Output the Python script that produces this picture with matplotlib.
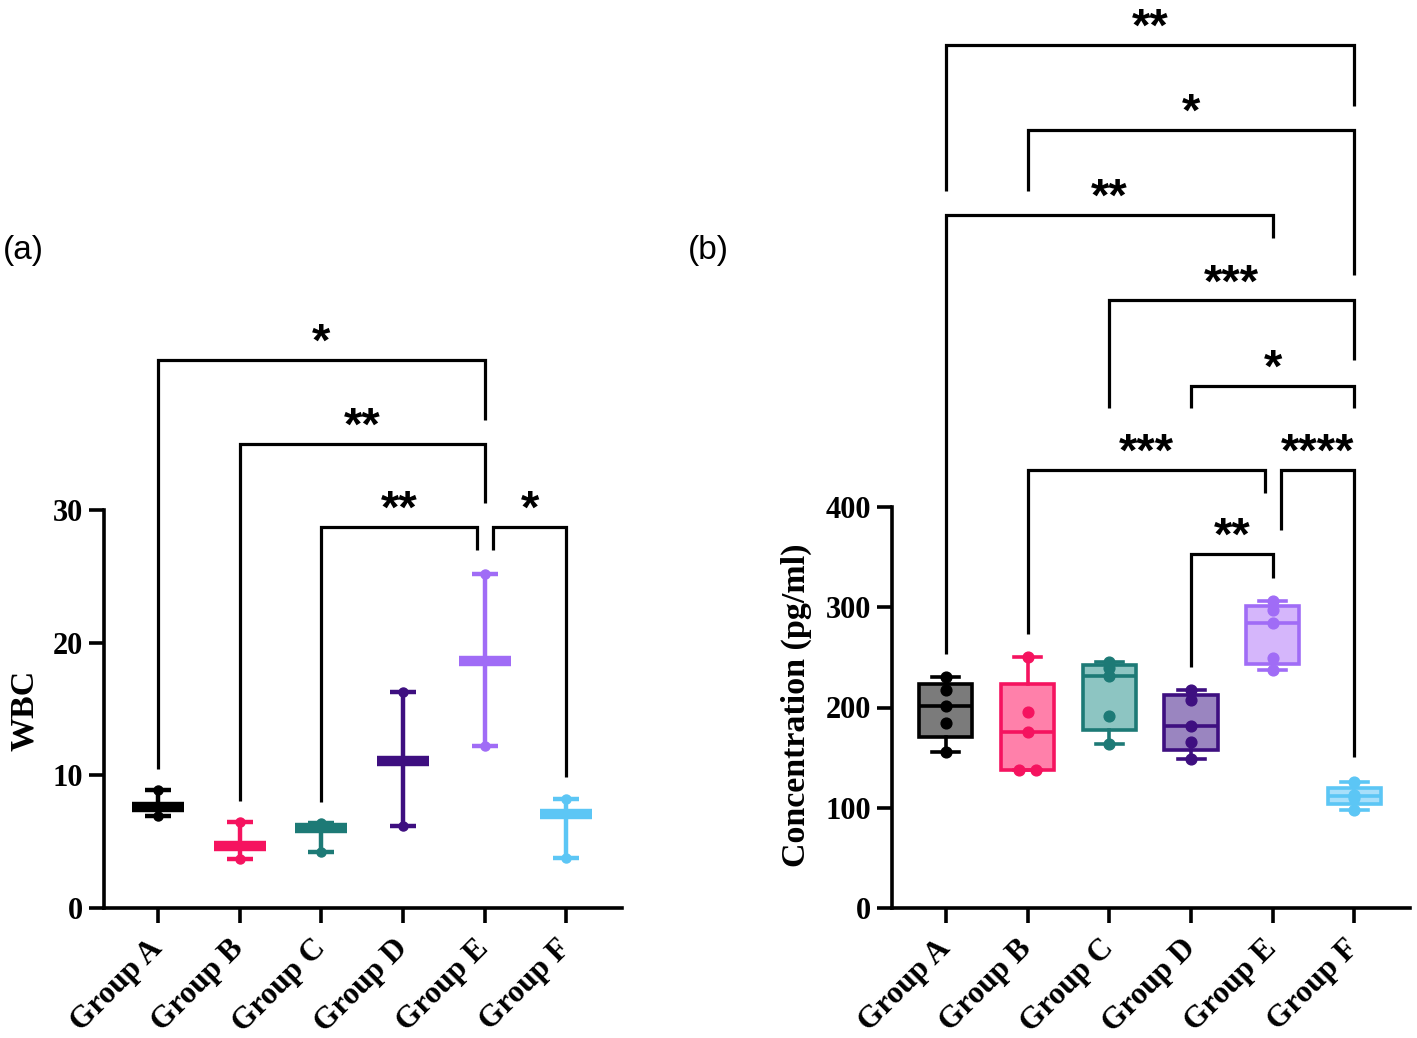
import numpy as np
import matplotlib
matplotlib.use("Agg")
import matplotlib.pyplot as plt
import matplotlib.transforms as mtransforms

# groups
groups = ["Group A", "Group B", "Group C", "Group D", "Group E", "Group F"]
edge_cols = ["#000000", "#F5135F", "#1D7A76", "#3E0F80", "#A06CF6", "#5CC6F5"]
fill_cols = ["#7B7B7B", "#FF80AA", "#8DC5C2", "#9A85C0", "#D5B6FB", "#A8DFFA"]

# (a) WBC: min, max, mean
wbc_min = [6.9, 3.7, 4.2, 6.2, 12.2, 3.8]
wbc_max = [8.9, 6.5, 6.4, 16.3, 25.2, 8.2]
wbc_mean = [7.6, 4.7, 6.0, 11.1, 18.6, 7.1]

# (b) concentration, five animals per group
conc = [
    [156, 185, 201, 217, 230],
    [138, 138, 176, 196, 250],
    [164, 192, 231, 239, 245],
    [149, 166, 182, 207, 217],
    [237, 249, 284, 297, 306],
    [98, 110, 112, 113, 126],
]

# significance brackets: (left x, right x, bar y, left leg end, right leg end, label)
sig_a = [
    (0, 4, 41.3, 10.5, 36.8, "*"),
    (1, 4, 35.0, 8.1, 30.5, "**"),
    (2, 3.9, 28.7, 8.0, 27.0, "**"),
    (4.1, 5, 28.7, 27.0, 9.9, "*"),
]
sig_b = [
    (0, 5, 861, 715, 800, "**"),
    (1, 5, 776, 715, 631, "*"),
    (0, 4, 691, 253, 668, "**"),
    (2, 5, 606, 499, 547, "***"),
    (3, 5, 521, 499, 499, "*"),
    (1, 3.9, 437, 273, 414, "***"),
    (4.1, 5, 437, 377, 151, "****"),
    (3, 4, 353, 240, 329, "**"),
]

W, H = 1417, 1038
serif = ["Liberation Serif", "DejaVu Serif"]
sans = ["Liberation Sans", "DejaVu Sans"]
plt.rcParams["font.family"] = serif

fig = plt.figure(figsize=(W / 100, H / 100), dpi=100)
axL = fig.add_axes([104 / W, (H - 908) / H, 518 / W, 398 / H])
axR = fig.add_axes([892 / W, (H - 908) / H, 518 / W, 401 / H])

x = np.arange(len(groups))
shift = mtransforms.ScaledTranslation(6 / 100, 0, fig.dpi_scale_trans)


def style_axis(ax, yticks):
    ax.set_xlim(-0.66, 5.68)
    ax.set_ylim(yticks[0], yticks[-1])
    ax.set_yticks(yticks)
    ax.set_xticks(x)
    ax.set_xticklabels(groups, rotation=45, ha="right", va="center",
                       rotation_mode="anchor", fontsize=22.5, fontweight="bold")
    for lab in ax.get_xticklabels():
        lab.set_transform(lab.get_transform() + shift)
    for lab in ax.get_yticklabels():
        lab.set_fontsize(22)
        lab.set_fontweight("bold")
    for s in ["top", "right"]:
        ax.spines[s].set_visible(False)
    for s in ["left", "bottom"]:
        ax.spines[s].set_linewidth(2.6)
    ax.tick_params(axis="both", direction="out", length=11, width=2.6, pad=4)
    ax.tick_params(axis="x", pad=15)


def brackets(ax, items, off):
    for x1, x2, y, e1, e2, txt in items:
        ax.plot([x1, x1, x2, x2], [e1, y, y, e2], color="black", lw=2.3,
                clip_on=False, solid_joinstyle="miter", solid_capstyle="butt")
        ax.annotate(txt, xy=((x1 + x2) / 2, y), xytext=(0, off),
                    textcoords="offset points", ha="center", va="baseline",
                    fontsize=34, fontweight="bold", family=sans,
                    annotation_clip=False)


# ---- panel (a)
for i in x:
    c = edge_cols[i]
    lo = wbc_mean[i] - wbc_min[i]
    hi = wbc_max[i] - wbc_mean[i]
    axL.errorbar(i, wbc_mean[i], yerr=[[lo], [hi]], fmt="none", ecolor=c,
                 elinewidth=3.2, capsize=9.5, capthick=3.2, clip_on=False)
    axL.plot([i, i], [wbc_min[i], wbc_max[i]], "o", color=c, ms=6.5)
    axL.plot(i, wbc_mean[i], marker="_", ms=38, mew=7.5, color=c)
style_axis(axL, [0, 10, 20, 30])
brackets(axL, sig_a, 3)

# ---- panel (b)
stats = []
for i, vals in enumerate(conc):
    v = np.array(vals, dtype=float)
    q1, med, q3 = np.percentile(v, [25, 50, 75], method="weibull")
    stats.append(dict(med=med, q1=q1, q3=q3, whislo=v.min(), whishi=v.max(),
                      fliers=[]))
bp = axR.bxp(stats, positions=x, widths=0.65, capwidths=0.33,
             patch_artist=True, showfliers=False)
for i in x:
    c = edge_cols[i]
    bp["boxes"][i].set(facecolor=fill_cols[i], edgecolor=c, linewidth=2.6)
    bp["medians"][i].set(color=c, linewidth=2.6)
    for w in bp["whiskers"][2 * i:2 * i + 2]:
        w.set(color=c, linewidth=2.6)
    for cp in bp["caps"][2 * i:2 * i + 2]:
        cp.set(color=c, linewidth=2.6)
    vals = np.array(conc[i], dtype=float)
    xs = np.full(len(vals), float(i))
    for j in range(1, len(vals)):
        if abs(vals[j] - vals[j - 1]) < 1.0:
            xs[j - 1] -= 0.1
            xs[j] += 0.1
    axR.scatter(xs, vals, s=60, color=c, zorder=4, clip_on=False)
style_axis(axR, [0, 100, 200, 300, 400])
brackets(axR, sig_b, 3)

# labels
fig.text(24 / W, 1 - 710 / H, "WBC", rotation=90, ha="center", va="center",
         fontsize=24.5, fontweight="bold")
fig.text(796 / W, 1 - 705 / H, "Concentration (pg/ml)", rotation=90,
         ha="center", va="center", fontsize=24.5, fontweight="bold")
fig.text(23 / W, 1 - 250 / H, "(a)", ha="center", va="center", fontsize=24,
         family=sans)
fig.text(708 / W, 1 - 250 / H, "(b)", ha="center", va="center", fontsize=24,
         family=sans)

fig.savefig("out.png", dpi=100)
